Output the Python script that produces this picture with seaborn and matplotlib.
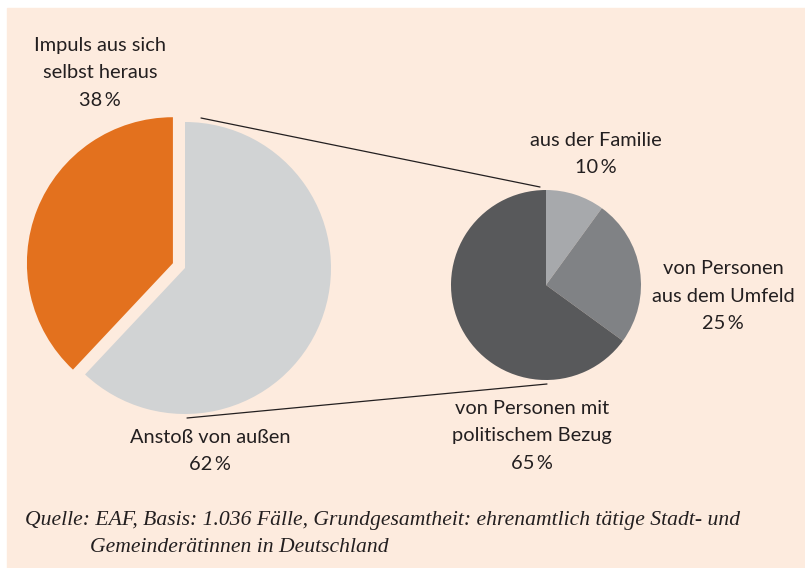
import numpy as np
import pandas as pd
import matplotlib
matplotlib.use("Agg")
import matplotlib.pyplot as plt
import seaborn as sns
from matplotlib.patches import Rectangle

# data
main_labels = ["Impuls aus sich\nselbst heraus", "Anstoß von außen"]
main_values = [38, 62]
sub_labels = ["aus der Familie", "von Personen\naus dem Umfeld", "von Personen mit\npolitischem Bezug"]
sub_values = [10, 25, 65]
source = ("Quelle: EAF, Basis: 1.036 Fälle, Grundgesamtheit: ehrenamtlich tätige Stadt- und\n"
          "Gemeinderätinnen in Deutschland")

sns.set_theme(style="white")
plt.rcParams["font.family"] = ["Lato", "DejaVu Sans"]

bg = "#fdebde"
main_colors = ["#e3711e", "#d1d3d4"]
sub_colors = ["#a7a9ac", "#808285", "#58595b"]

W, H = 805, 568
fig = plt.figure(figsize=(8.05, 5.68), dpi=100)
ax = fig.add_axes([0, 0, 1, 1])

def Y(y):
    # picture coords -> axis coords (y up)
    return H - y

ax.add_patch(Rectangle((7, 0), W - 7, H - 8, color=bg, zorder=0))

# big pie (explode is in data units here)
ax.pie(main_values, colors=main_colors, startangle=90, counterclock=True,
       explode=[13, 0], center=(185, Y(268)), radius=146,
       wedgeprops={"linewidth": 0}, frame=True)

# small pie
ax.pie(sub_values, colors=sub_colors, startangle=90, counterclock=False,
       center=(546, Y(285)), radius=95,
       wedgeprops={"linewidth": 0}, frame=True)

# connector lines
ax.plot([201, 540], [Y(118), Y(187)], color="#231f20", lw=0.9)
ax.plot([187, 547], [Y(418), Y(384)], color="#231f20", lw=0.9)

txt = dict(ha="center", va="center", fontsize=14.4, color="#231f20", linespacing=1.75)
ax.text(100, Y(73), f"{main_labels[0]}\n{main_values[0]}\u2009%", **txt)
ax.text(210, Y(451), f"{main_labels[1]}\n{main_values[1]}\u2009%", **txt)
ax.text(596, Y(154), f"{sub_labels[0]}\n{sub_values[0]}\u2009%", **txt)
ax.text(723, Y(296), f"{sub_labels[1]}\n{sub_values[1]}\u2009%", **txt)
ax.text(532, Y(436), f"{sub_labels[2]}\n{sub_values[2]}\u2009%", **txt)

lines = source.split("\n")
ax.text(25, Y(520), lines[0], ha="left", va="center", fontsize=15.6,
        family="Liberation Serif", style="italic", color="#231f20")
ax.text(90, Y(548), lines[1], ha="left", va="center", fontsize=15.6,
        family="Liberation Serif", style="italic", color="#231f20")

ax.set_xlim(0, W)
ax.set_ylim(0, H)
ax.set_aspect("equal")
ax.axis("off")

fig.savefig("out.png", dpi=100, facecolor="white")
